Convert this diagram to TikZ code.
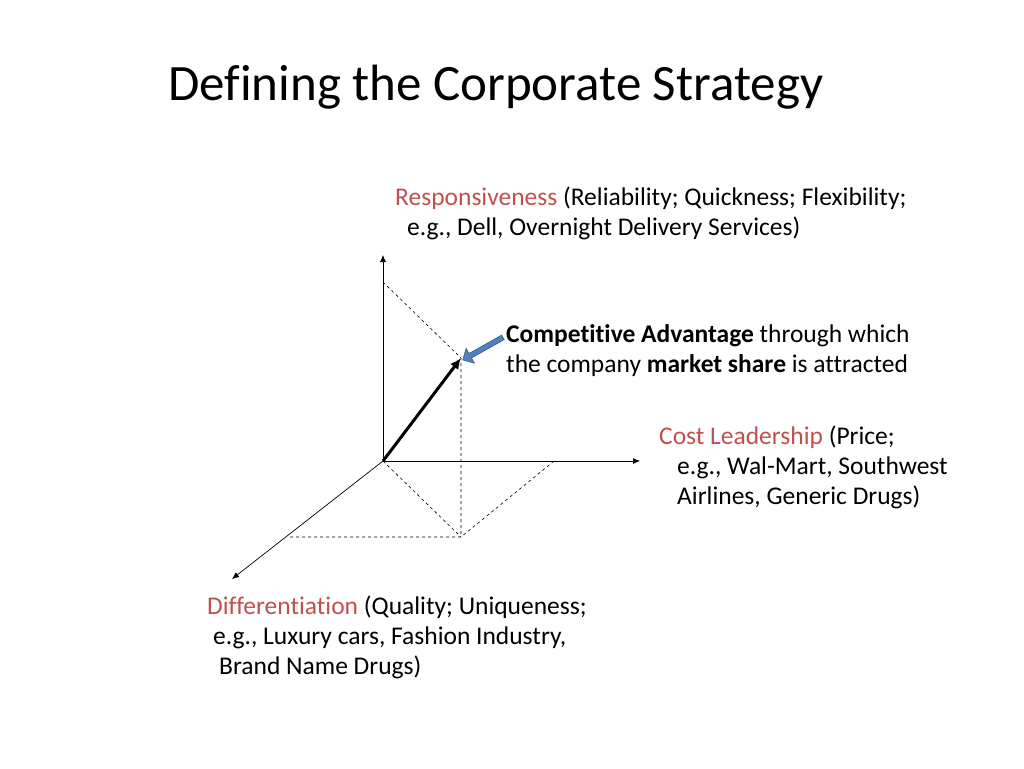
\documentclass[tikz,border=0pt]{standalone}
\usepackage{fontspec}
\setmainfont[Ligatures=NoCommon]{Carlito}
\usetikzlibrary{shapes.arrows,arrows.meta}
\definecolor{redt}{HTML}{C0504D}
\definecolor{blu}{HTML}{4F81BD}
\begin{document}
\begin{tikzpicture}[x=1pt,y=-1pt,
  txt/.style={anchor=north west,align=left,inner sep=0pt,font=\fontsize{25.5}{30}\selectfont},
  ax/.style={-{Latex[length=7pt,width=6pt]},line width=0.7pt},
  dsh/.style={dashed,line width=0.6pt}]
\useasboundingbox (0,0) rectangle (1024,768);
\node[anchor=base west,inner sep=0pt,font=\fontsize{51}{56}\selectfont] (title) at (168,100) {Defining the Corporate Strategy};
\coordinate (o) at (383,461);
\coordinate (up) at (383,255);
\coordinate (rt) at (640,461);
\coordinate (dl) at (232,579);
\coordinate (p) at (461,358);
\coordinate (q) at (461,537);
\coordinate (u1) at (383,282);
\coordinate (r1) at (554,461);
\coordinate (d1) at (289,537);
\draw[ax] (o) -- (up);
\draw[ax] (o) -- (rt);
\draw[ax] (o) -- (dl);
\draw[dsh] (u1) -- (p) -- (q);
\draw[dsh] (r1) -- (q) -- (d1);
\draw[dsh] (o) -- (q);
\draw[-{Latex[length=11pt,width=10pt]},line width=3pt] (o) -- (p);
\node[single arrow,draw=blu!70!black,fill=blu,minimum height=46pt,minimum width=17pt,single arrow head extend=3pt,inner sep=1pt,rotate=209.4,line width=0.6pt] (ba) at (484,348) {};
\node[txt] (resp) at (395,187) {\textcolor{redt}{Responsiveness} (Reliability; Quickness; Flexibility;\\\hspace{12pt}e.g., Dell, Overnight Delivery Services)};
\node[txt] (comp) at (506,324) {\textbf{Competitive Advantage} through which\\the company \textbf{market share} is attracted};
\node[txt] (cost) at (659,426) {\textcolor{redt}{Cost Leadership} (Price;\\\hspace{18pt}e.g., Wal-Mart, Southwest\\\hspace{18pt}Airlines, Generic Drugs)};
\node[txt] (diff) at (207,596) {\textcolor{redt}{Differentiation} (Quality; Uniqueness;\\\hspace{6pt}e.g., Luxury cars, Fashion Industry,\\\hspace{12pt}Brand Name Drugs)};
\end{tikzpicture}
\end{document}
